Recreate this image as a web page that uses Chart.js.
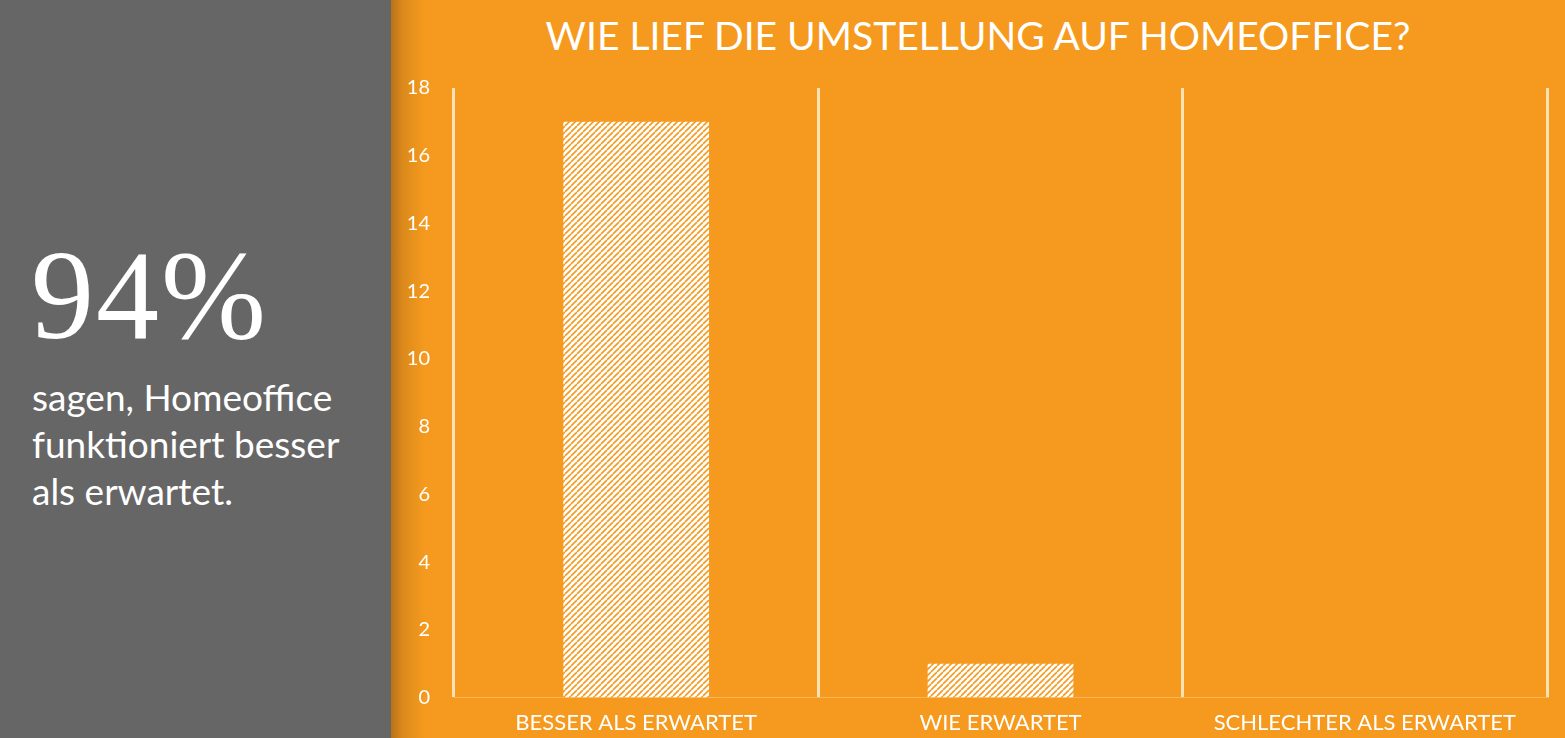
<!DOCTYPE html>
<html>
<head>
<meta charset="utf-8">
<script src="https://cdn.jsdelivr.net/npm/chart.js@4/dist/chart.umd.min.js"></script>
<style>
  html, body { margin: 0; padding: 0; width: 1565px; height: 738px; overflow: hidden; background: #F59A1E; }
  #left { position: absolute; left: 0; top: 0; width: 391px; height: 738px; background: #666666; }
  #shade { position: absolute; left: 391px; top: 0; width: 34px; height: 738px;
           background: linear-gradient(to right, #B8721A 0%, #DC8A1C 35%, #F59A1E 100%); }
  #big { position: absolute; left: 31px; top: 233px; font-family: "Liberation Serif", serif; font-size: 126px; color: #fff; line-height: 1; letter-spacing: 2px; }
  #sub { position: absolute; left: 32px; top: 373px; font-family: Lato, sans-serif; font-size: 37px; color: #fff; line-height: 47px; }
  #title { position: absolute; left: 391px; width: 1174px; top: 12px; text-align: center; font-family: Lato, sans-serif; font-size: 39px; color: #fff; line-height: 47px; white-space: nowrap; }
  #wrap { position: absolute; left: 391px; top: 0; width: 1174px; height: 738px; }
</style>
</head>
<body>
<div id="left">
  <div id="big">94%</div>
  <div id="sub">sagen, Homeoffice<br>funktioniert besser<br>als erwartet.</div>
</div>
<div id="shade"></div>
<div id="title"></div>
<div id="wrap"><canvas id="c" width="1174" height="738"></canvas></div>
<script>
const categories = ["BESSER ALS ERWARTET", "WIE ERWARTET", "SCHLECHTER ALS ERWARTET"];
const values = [17, 1, 0];
const yTicks = [0, 2, 4, 6, 8, 10, 12, 14, 16, 18];
const titleText = "WIE LIEF DIE UMSTELLUNG AUF HOMEOFFICE?";

document.getElementById('title').textContent = titleText;

function makePattern() {
  const t = document.createElement('canvas');
  t.width = 6; t.height = 6;
  const g = t.getContext('2d');
  g.fillStyle = '#ffffff';
  g.fillRect(0, 0, 6, 6);
  g.strokeStyle = '#F59A1E';
  g.lineWidth = 1.6;
  g.beginPath();
  for (let k = -6; k <= 12; k += 6) {
    g.moveTo(k, 6); g.lineTo(k + 6, 0);
  }
  g.stroke();
  return g.createPattern(t, 'repeat');
}

new Chart(document.getElementById('c'), {
  type: 'bar',
  data: {
    labels: categories,
    datasets: [{
      data: values,
      backgroundColor: makePattern(),
      borderWidth: 0,
      barPercentage: 0.4,
      categoryPercentage: 1.0
    }]
  },
  options: {
    responsive: false,
    animation: false,
    layout: { padding: { left: 0, right: 18, top: 88, bottom: -10 } },
    plugins: {
      legend: { display: false },
      tooltip: { enabled: false },
      title: { display: false }
    },
    scales: {
      x: {
        offset: true,
        grid: { display: true, offset: true, color: '#FFE2B4', lineWidth: 3, drawTicks: false },
        border: { display: true, color: '#F8B456', width: 1 },
        ticks: { color: '#ffffff', font: { family: 'Lato', size: 22 }, padding: 12, maxRotation: 0 }
      },
      y: {
        min: 0, max: 18,
        afterBuildTicks: (axis) => { axis.ticks = yTicks.map(v => ({ value: v })); },
        afterFit: (axis) => { axis.width = 63; },
        grid: { display: false, drawTicks: false },
        border: { display: false },
        ticks: { color: '#ffffff', font: { family: 'Lato', size: 20 }, padding: 24 }
      }
    }
  }
});
</script>
</body>
</html>
